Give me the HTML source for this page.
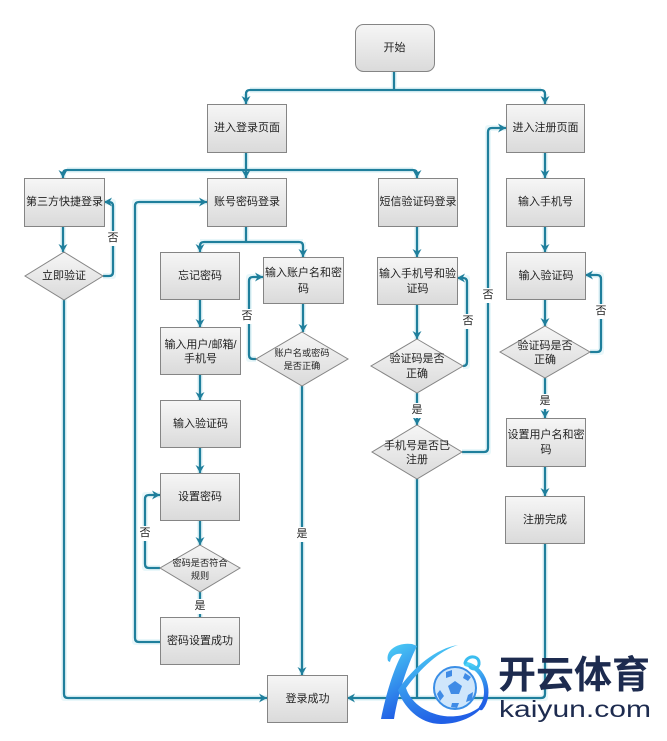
<!DOCTYPE html>
<html><head><meta charset="utf-8"><style>
html,body{margin:0;padding:0;background:#fff;}
svg{display:block;}
text{font-family:"Liberation Sans","Noto Sans CJK SC",sans-serif;fill:#222;}
</style></head><body>
<svg width="667" height="741" viewBox="0 0 667 741" xmlns="http://www.w3.org/2000/svg">
<defs>
<linearGradient id="bg" x1="0" y1="0" x2="0" y2="1">
<stop offset="0" stop-color="#f6f6f6"/><stop offset="1" stop-color="#dadada"/>
</linearGradient>
<linearGradient id="kg" x1="0" y1="0" x2="0.3" y2="1">
<stop offset="0" stop-color="#4fd6f6"/><stop offset="1" stop-color="#2160e6"/>
</linearGradient>
<marker id="ar" markerUnits="userSpaceOnUse" markerWidth="10" markerHeight="10" refX="8" refY="4.5" orient="auto">
<path d="M0,0 L8,4.5 L0,9 L2.5,4.5 Z" fill="#1f7f9c"/>
</marker>
</defs>
<rect width="667" height="741" fill="#fff"/>

<!-- connectors halo -->
<g fill="none" stroke="#e9f7fa" stroke-width="6" stroke-linejoin="round">
<path d="M394,71 V90 M250,90 H541 M246,94 V104 M545,94 V104"/>
<path d="M246,152 V178 M67,170 H413 M63,174 V178 M417,174 V178"/>
<path d="M63,226 V252 M103,276 H113 V202 H104 M64,299 V698 H267"/>
<path d="M246,226 V242 M200,242 H303 M200,242 V252 M303,242 V257 M303,303 V332"/>
<path d="M256,359 H249 V277 H263 M302,386 V675"/>
<path d="M200,299 V327 M200,374 V400 M200,447 V473 M200,520 V545 M160,568 H145 V495 H160 M200,592 V617"/>
<path d="M160,642 H135 V202 H207"/>
<path d="M417,226 V257 M417,304 V339 M463,366 H467 V278 H457 M417,393 V425 M462,452 H488 V128 H506 M417,479 V698"/>
<path d="M545,152 V178 M545,226 V252 M545,299 V326 M590,352 H601 V275 H585 M545,378 V418 M545,466 V496 M545,543 V698 H347"/>
</g>

<!-- connectors -->
<g fill="none" stroke="#1f7f9c" stroke-width="2.3" stroke-linejoin="round">
<path d="M394,71 V90"/>
<path d="M394,90 H250 Q246,90 246,94 V104" marker-end="url(#ar)"/>
<path d="M394,90 H541 Q545,90 545,94 V104" marker-end="url(#ar)"/>
<path d="M246,152 V178" marker-end="url(#ar)"/>
<path d="M246,170 H67 Q63,170 63,174 V178" marker-end="url(#ar)"/>
<path d="M246,170 H413 Q417,170 417,174 V178" marker-end="url(#ar)"/>
<path d="M63,226 V252" marker-end="url(#ar)"/>
<path d="M103,276 H109 Q113,276 113,272 V206 Q113,202 109,202 H104" marker-end="url(#ar)"/>
<path d="M64,299 V694 Q64,698 68,698 H267" marker-end="url(#ar)"/>
<path d="M246,226 V242"/>
<path d="M246,242 H204 Q200,242 200,246 V252" marker-end="url(#ar)"/>
<path d="M246,242 H299 Q303,242 303,246 V257" marker-end="url(#ar)"/>
<path d="M303,303 V332" marker-end="url(#ar)"/>
<path d="M256,359 H253 Q249,359 249,355 V281 Q249,277 253,277 H263" marker-end="url(#ar)"/>
<path d="M302,386 V675" marker-end="url(#ar)"/>
<path d="M200,299 V327" marker-end="url(#ar)"/>
<path d="M200,374 V400" marker-end="url(#ar)"/>
<path d="M200,447 V473" marker-end="url(#ar)"/>
<path d="M200,520 V545" marker-end="url(#ar)"/>
<path d="M160,568 H149 Q145,568 145,564 V499 Q145,495 149,495 H160" marker-end="url(#ar)"/>
<path d="M200,592 V617"/>
<path d="M160,642 H139 Q135,642 135,638 V206 Q135,202 139,202 H207" marker-end="url(#ar)"/>
<path d="M417,226 V257" marker-end="url(#ar)"/>
<path d="M417,304 V339" marker-end="url(#ar)"/>
<path d="M463,366 Q467,366 467,362 V282 Q467,278 463,278 H457" marker-end="url(#ar)"/>
<path d="M417,393 V425" marker-end="url(#ar)"/>
<path d="M462,452 H484 Q488,452 488,448 V132 Q488,128 492,128 H506" marker-end="url(#ar)"/>
<path d="M417,479 V698"/>
<path d="M545,152 V178" marker-end="url(#ar)"/>
<path d="M545,226 V252" marker-end="url(#ar)"/>
<path d="M545,299 V326" marker-end="url(#ar)"/>
<path d="M590,352 H597 Q601,352 601,348 V279 Q601,275 597,275 H585" marker-end="url(#ar)"/>
<path d="M545,378 V418" marker-end="url(#ar)"/>
<path d="M545,466 V496" marker-end="url(#ar)"/>
<path d="M545,543 V694 Q545,698 541,698 H347" marker-end="url(#ar)"/>
</g>

<!-- labels with white backgrounds -->
<g fill="#fff">
<rect x="106" y="231" width="14" height="15"/>
<rect x="240" y="309" width="14" height="15"/>
<rect x="138" y="526" width="14" height="15"/>
<rect x="461" y="314" width="14" height="15"/>
<rect x="481" y="288" width="14" height="15"/>
<rect x="594" y="304" width="14" height="15"/>
<rect x="295" y="527" width="14" height="15"/>
<rect x="193" y="599" width="14" height="15"/>
<rect x="410" y="403" width="14" height="15"/>
<rect x="538" y="394" width="14" height="15"/>
</g>
<g font-size="11" text-anchor="middle" dominant-baseline="central">
<text x="113" y="238">否</text>
<text x="247" y="316">否</text>
<text x="145" y="533">否</text>
<text x="468" y="321">否</text>
<text x="488" y="295">否</text>
<text x="601" y="311">否</text>
<text x="302" y="534">是</text>
<text x="200" y="606">是</text>
<text x="417" y="410">是</text>
<text x="545" y="401">是</text>
</g>

<!-- boxes -->
<g fill="url(#bg)" stroke="#858585" stroke-width="1">
<rect x="355.5" y="24.5" width="79" height="47" rx="8"/>
<rect x="207.5" y="104.5" width="79" height="48"/>
<rect x="506.5" y="104.5" width="78" height="48"/>
<rect x="24.5" y="178.5" width="80" height="48"/>
<rect x="207.5" y="178.5" width="79" height="48"/>
<rect x="378.5" y="178.5" width="79" height="48"/>
<rect x="506.5" y="178.5" width="78" height="48"/>
<rect x="160.5" y="252.5" width="79" height="47"/>
<rect x="263.5" y="257.5" width="80" height="46"/>
<rect x="377.5" y="257.5" width="80" height="47"/>
<rect x="506.5" y="252.5" width="79" height="47"/>
<rect x="160.5" y="327.5" width="80" height="47"/>
<rect x="160.5" y="400.5" width="80" height="47"/>
<rect x="506.5" y="418.5" width="79" height="48"/>
<rect x="160.5" y="473.5" width="79" height="47"/>
<rect x="505.5" y="496.5" width="79" height="47"/>
<rect x="160.5" y="617.5" width="79" height="47"/>
<rect x="267.5" y="675.5" width="80" height="47"/>
<!-- diamonds -->
<polygon points="64,252 103,276 64,300 25,276"/>
<polygon points="302,332 348,359 302,386 256,359"/>
<polygon points="417,339 463,366 417,393 371,366"/>
<polygon points="417,425 462,452 417,479 372,452"/>
<polygon points="545,326 590,352 545,378 500,352"/>
<polygon points="200,545 240,568 200,592 160,568"/>
</g>

<!-- box text -->
<g font-size="11" text-anchor="middle" dominant-baseline="central">
<text x="394.5" y="48">开始</text>
<text x="247" y="128">进入登录页面</text>
<text x="545.5" y="128">进入注册页面</text>
<text x="64.5" y="202">第三方快捷登录</text>
<text x="247" y="202">账号密码登录</text>
<text x="418" y="202">短信验证码登录</text>
<text x="545.5" y="202">输入手机号</text>
<text x="200" y="276">忘记密码</text>
<text x="303.5" y="273">输入账户名和密</text>
<text x="303.5" y="289">码</text>
<text x="417.5" y="274">输入手机号和验</text>
<text x="417.5" y="289">证码</text>
<text x="546" y="276">输入验证码</text>
<text x="200.5" y="345">输入用户/邮箱/</text>
<text x="200.5" y="359">手机号</text>
<text x="200.5" y="424">输入验证码</text>
<text x="546" y="435">设置用户名和密</text>
<text x="546" y="450">码</text>
<text x="200" y="497">设置密码</text>
<text x="545" y="520">注册完成</text>
<text x="200" y="641">密码设置成功</text>
<text x="307.5" y="699">登录成功</text>
<text x="64" y="276">立即验证</text>
<text x="417" y="359">验证码是否</text>
<text x="417" y="374">正确</text>
<text x="417" y="446">手机号是否已</text>
<text x="417" y="460">注册</text>
<text x="545" y="346">验证码是否</text>
<text x="545" y="360">正确</text>
</g>
<g font-size="9.2" text-anchor="middle" dominant-baseline="central">
<text x="302" y="353">账户名或密码</text>
<text x="302" y="366">是否正确</text>
<text x="200" y="563">密码是否符合</text>
<text x="200" y="576">规则</text>
</g>

<!-- watermark logo -->
<g>
<path d="M388,661 C385,650 398,642 412,644 L417,646 C407,666 398,694 394,719 L381,719 C386,694 394,668 402,654 C396,653 391,656 390,662 Z" fill="url(#kg)"/>
<path d="M458,645 C440,650 420,669 406,688 C410,701 424,713 444,716 C460,718 476,713 486,701 C480,714 462,724 441,724 C419,724 403,706 398,690 C413,667 437,648 458,645 Z" fill="url(#kg)"/>
<path d="M466,664 C485,668 492,694 481,708" fill="none" stroke="url(#kg)" stroke-width="4.5" stroke-linecap="round"/>
<path d="M465,663 C467,655 478,655 479,662 C480,668 473,671 470,667" fill="none" stroke="#3bbdf0" stroke-width="3" stroke-linecap="round"/>
<circle cx="455" cy="688" r="21" fill="#cfe6fb" stroke="#3a8ee6" stroke-width="2"/>
<polygon points="455,681 462,686 459,694 451,694 448,686" fill="#3f8be6"/>
<polygon points="446,672 452,670 452,676 446,678" fill="#3f8be6"/>
<polygon points="465,673 471,677 468,681 463,678" fill="#3f8be6"/>
<polygon points="440,690 444,696 440,701 437,694" fill="#3f8be6"/>
<polygon points="468,695 473,692 472,700 466,702" fill="#3f8be6"/>
<polygon points="452,703 459,703 457,708 451,707" fill="#3f8be6"/>
<text x="498" y="688" font-size="38" font-weight="bold" textLength="152" lengthAdjust="spacingAndGlyphs" style="fill:#1d2b4f">开云体育</text>
<text x="499" y="717" font-size="23" textLength="152" lengthAdjust="spacingAndGlyphs" style="fill:#1d2b4f">kaiyun.com</text>
</g>
</svg>
</body></html>
